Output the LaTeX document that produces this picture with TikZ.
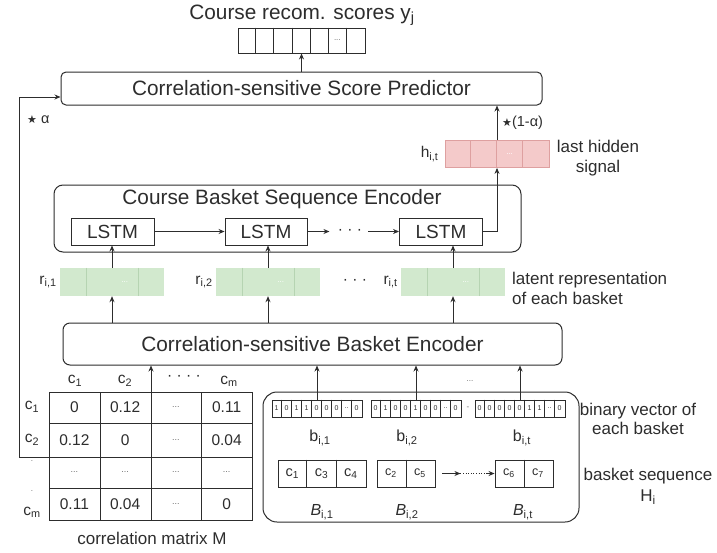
\documentclass[tikz,border=0pt]{standalone}
\usepackage{fontspec}
\setmainfont{Liberation Sans}
\newfontfamily\symf{DejaVu Sans}
\usetikzlibrary{arrows.meta,calc}
\definecolor{linec}{RGB}{45,45,45}
\definecolor{pinkf}{RGB}{244,202,202}
\definecolor{pinkd}{RGB}{222,160,160}
\definecolor{greenf}{RGB}{210,233,206}
\definecolor{greend}{RGB}{182,212,178}
\newcommand\bdots{..}
\newcommand\mdots{{\fontsize{9}{10}\selectfont\color{linec!70}...}}
\begin{document}
\begin{tikzpicture}[x=1pt,y=-1pt,
  every node/.style={text=linec, inner sep=0pt, font=\fontsize{15.5}{18}\selectfont},
  arr/.style={-{Stealth[length=6pt,width=5pt]}, draw=linec, line width=0.9pt},
  ln/.style={draw=linec, line width=0.9pt},
  thinln/.style={draw=linec, line width=0.6pt},
  bigbox/.style={draw=linec, line width=1pt, rounded corners=5pt},
  cellbox/.style={draw=linec, line width=0.9pt},
  bigt/.style={font=\fontsize{20.8}{24}\selectfont},
  lab/.style={font=\fontsize{17}{20}\selectfont, align=center},
  greenbox/.style={fill=greenf, minimum width=104pt, minimum height=28pt},
  tiny/.style={font=\fontsize{7}{8}\selectfont},
  gdots/.style={font=\fontsize{8}{9}\selectfont, text=linec!70},
  lstm/.style={cellbox, minimum height=27pt, font=\fontsize{19}{22}\selectfont},
]
\useasboundingbox (0,0) rectangle (717,552);
\fill[white] (0,0) rectangle (717,552);

% ---------- top: scores ----------
\node[bigt] (title) at (302,15) {Course recom. scores y\textsubscript{j}};
\node[cellbox, minimum width=127pt, minimum height=25pt] (yvec) at (301.5,40.5) {};
\foreach \i in {1,...,6}
  \draw[ln] ($(yvec.north west)+(\i*127/7,0)$) -- ($(yvec.south west)+(\i*127/7,0)$);
\node[gdots] (ydots) at ($(yvec.west)+(5.5*127/7,0)$) {...};

\node[bigbox, minimum width=481pt, minimum height=33pt, bigt] (pred) at (301.5,88.5) {Correlation-sensitive Score Predictor};
\draw[arr] (pred.north -| yvec.south) -- (yvec.south);

% ---------- hidden signal ----------
\node[draw=pinkd, fill=pinkf, line width=0.8pt, minimum width=104pt, minimum height=27pt] (h) at (497,154) {};
\foreach \i in {1,2,3}
  \draw[draw=pinkd, line width=0.6pt] ($(h.north west)+(\i*26,0)$) -- ($(h.south west)+(\i*26,0)$);
\node[gdots, text=white] (hdots) at ($(h.west)+(65,0)$) {...};
\node[anchor=east] (hlab) at ([xshift=-6pt]h.west) {h\textsubscript{i,t}};
\node[lab] (hsig) at (598,158) {last hidden\\signal};
\draw[arr] (h.north) -- (h.north |- pred.south);
\node[anchor=west, font=\fontsize{14.5}{16}\selectfont] (oneminus) at (502,123) {{\symf\fontsize{11}{12}\selectfont ★}(1-α)};

% ---------- sequence encoder ----------
\node[bigbox, minimum width=467pt, minimum height=67pt, rounded corners=9pt] (senc) at (287.5,218.5) {};
\node[bigt] (stitle) at (282,199) {Course Basket Sequence Encoder};
\node[lstm, minimum width=83pt] (l1) at (112.5,231.5) {LSTM};
\node[lstm, minimum width=82pt] (l2) at (266,231.5) {LSTM};
\node[lstm, minimum width=83pt] (l3) at (441,231.5) {LSTM};
\draw[arr] (l1.east) -- (l2.west);
\draw[arr] (l2.east) -- ++(22,0) coordinate (ld1);
\node (ldots) at (350,231.5) {· · ·};
\coordinate (ld2) at (368,231.5);
\draw[arr] (ld2) -- (l3.west);
\coordinate (hin) at (h.south);
\draw[arr] (l3.east) -| (hin);

% ---------- latent representations ----------
\node[greenbox] (r1) at (112,282) {};
\node[greenbox] (r2) at (268,282) {};
\node[greenbox] (rt) at (453,282) {};
\foreach \r in {r1,r2,rt}{
  \draw[draw=greend, line width=0.6pt] ($(\r.north west)+(26,0)$) -- ($(\r.south west)+(26,0)$);
  \draw[draw=greend, line width=0.6pt] ($(\r.north west)+(78,0)$) -- ($(\r.south west)+(78,0)$);
  \node[gdots, text=white] at ($(\r.west)+(65,0)$) {...};
}
\node[anchor=east] (r1lab) at ([xshift=-3pt]r1.west) {r\textsubscript{i,1}};
\node[anchor=east] (r2lab) at ([xshift=-3pt]r2.west) {r\textsubscript{i,2}};
\node[anchor=east] (rtlab) at ([xshift=-3pt]rt.west) {r\textsubscript{i,t}};
\node (rdots) at (355,282) {· · ·};
\node[lab, align=left, anchor=west] (latlab) at (512,288) {latent representation\\of each basket};
\foreach \r/\l in {r1/l1,r2/l2,rt/l3}
  \draw[arr] (\r.north) -- (\r.north |- \l.south);

% ---------- basket encoder ----------
\node[bigbox, minimum width=499pt, minimum height=42pt, bigt, rounded corners=7pt] (benc) at (312.5,344) {Correlation-sensitive Basket Encoder};
\foreach \r in {r1,r2,rt}
  \draw[arr] (benc.north -| \r.south) -- (\r.south);

% ---------- correlation matrix ----------
\node[cellbox, minimum width=203pt, minimum height=128pt] (M) at (150.5,456) {};
\foreach \x in {100,151,201} \draw[ln] (\x,392) -- (\x,520);
\foreach \y in {423,457,488} \draw[ln] (49,\y) -- (252,\y);
\foreach \v [count=\k] in {0,0.12,\mdots,0.11}
  \node at ({49+(\k-0.5)*50.75},407.5) {\v};
\foreach \v [count=\k] in {0.12,0,\mdots,0.04}
  \node at ({49+(\k-0.5)*50.75},440) {\v};
\foreach \v [count=\k] in {\mdots,\mdots,\mdots,\mdots}
  \node at ({49+(\k-0.5)*50.75},472.5) {\v};
\foreach \v [count=\k] in {0.11,0.04,\mdots,0}
  \node at ({49+(\k-0.5)*50.75},504) {\v};
\node (ch1) at (75,381) {c\textsubscript{1}};
\node (ch2) at (125,381) {c\textsubscript{2}};
\node (chd) at (184,378) {· · · ·};
\node (chm) at (229,381) {c\textsubscript{m}};
\node (rh1) at (32,407) {c\textsubscript{1}};
\node (rh2) at (32,440) {c\textsubscript{2}};
\node[gdots] (rhd1) at (32,461) {.};
\node[gdots] (rhd2) at (32,491) {.};
\node (rhm) at (32,512) {c\textsubscript{m}};
\node[lab] (mcap) at (152,538) {correlation matrix M};
\coordinate (mb) at (151,520);
\draw[arr] (mb) -- (mb |- benc.south);

% feedback alpha
\coordinate (mL2) at (49,457);
\coordinate (fbtop) at (19,97);
\draw[arr] (mL2) -| (fbtop) -- (pred.west |- fbtop);
\node[anchor=west, font=\fontsize{14.5}{16}\selectfont] (alab) at (27,120) {{\symf\fontsize{11}{12}\selectfont ★} α};

% ---------- baskets ----------
\node[bigbox, minimum width=316pt, minimum height=130pt, rounded corners=14pt] (H) at (421,457) {};
\node[cellbox, minimum width=90pt, minimum height=17pt] (b1) at (317,408.5) {};
\node[cellbox, minimum width=90pt, minimum height=17pt] (b2) at (416,408.5) {};
\node[cellbox, minimum width=90pt, minimum height=17pt] (bt) at (520,408.5) {};
\foreach \b in {b1,b2,bt}
  \foreach \k in {1,...,8}
    \draw[thinln] ($(\b.north west)+(\k*10,0)$) -- ($(\b.south west)+(\k*10,0)$);
\foreach \d [count=\k] in {1,0,1,1,0,0,0,\bdots,0}
  \node[tiny] at ($(b1.west)+(\k*10-5,0)$) {\d};
\foreach \d [count=\k] in {0,1,0,0,1,0,0,\bdots,0}
  \node[tiny] at ($(b2.west)+(\k*10-5,0)$) {\d};
\foreach \d [count=\k] in {0,0,0,0,0,1,1,\bdots,0}
  \node[tiny] at ($(bt.west)+(\k*10-5,0)$) {\d};
\node[gdots] (bdash) at (468,408.5) {-};
\node[gdots] (bdots) at (470,381) {...};
\node[font=\fontsize{16}{18}\selectfont] (b1lab) at (320,438) {b\textsubscript{i,1}};
\node[font=\fontsize{16}{18}\selectfont] (b2lab) at (407,438) {b\textsubscript{i,2}};
\node[font=\fontsize{16}{18}\selectfont] (btlab) at (522,438) {b\textsubscript{i,t}};
\foreach \b in {b1,b2,bt}
  \draw[arr] (\b.north) -- (\b.north |- benc.south);

\node[cellbox, minimum width=88pt, minimum height=27pt] (B1) at (322,473.5) {};
\node[cellbox, minimum width=58pt, minimum height=27pt] (B2) at (406,473.5) {};
\node[cellbox, minimum width=58pt, minimum height=27pt] (Bt) at (524,473.5) {};
\foreach \k in {1,2} \draw[ln] ($(B1.north west)+(\k*88/3,0)$) -- ($(B1.south west)+(\k*88/3,0)$);
\draw[ln] (B2.north) -- (B2.south);
\draw[ln] (Bt.north) -- (Bt.south);
\foreach \c [count=\k] in {1,3,4}
  \node[font=\fontsize{14.5}{16}\selectfont] at ($(B1.west)+({(\k-0.5)*88/3},0)$) {c\textsubscript{\c}};
\foreach \c [count=\k] in {2,5}
  \node[font=\fontsize{12.5}{14}\selectfont] at ($(B2.west)+({(\k-0.5)*29},0)$) {c\textsubscript{\c}};
\foreach \c [count=\k] in {6,7}
  \node[font=\fontsize{12.5}{14}\selectfont] at ($(Bt.west)+({(\k-0.5)*29},0)$) {c\textsubscript{\c}};
\draw[arr] ([xshift=7pt]B2.east) -- ++(18,0) coordinate (bd1);
\coordinate (bd2) at (486,473.5);
\draw[thinln, dotted] (bd1) -- (bd2);
\draw[arr] (bd2) -- (Bt.west);
\node[font=\fontsize{16}{18}\selectfont] (B1lab) at (322,512) {\textit{B}\textsubscript{i,1}};
\node[font=\fontsize{16}{18}\selectfont] (B2lab) at (407,512) {\textit{B}\textsubscript{i,2}};
\node[font=\fontsize{16}{18}\selectfont] (Btlab) at (523,512) {\textit{B}\textsubscript{i,t}};

\node[lab, font=\fontsize{17}{19}\selectfont] (binlab) at (638,419) {binary vector of\\each basket};
\node[lab, font=\fontsize{17}{21}\selectfont] (seqlab) at (648,486) {basket sequence\\H\textsubscript{i}};
\end{tikzpicture}
\end{document}
